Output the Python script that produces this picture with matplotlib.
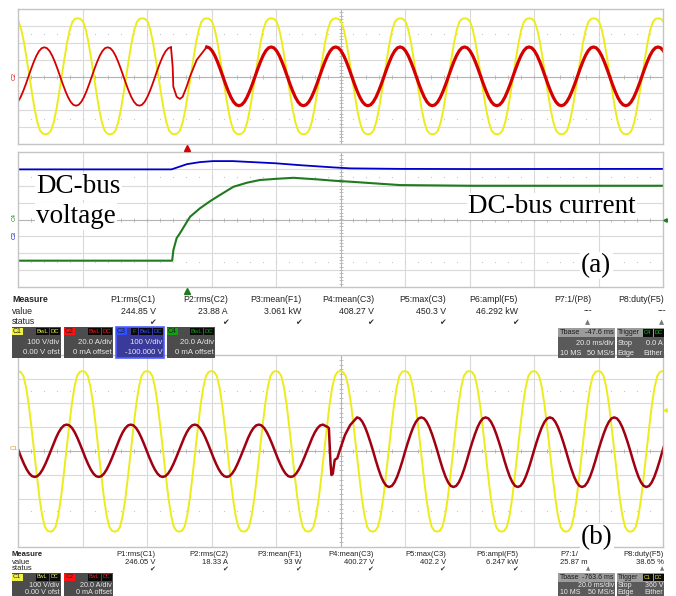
import numpy as np
import matplotlib
matplotlib.use("Agg")
import matplotlib.pyplot as plt
from matplotlib.patches import Rectangle
from matplotlib import font_manager

W, H = 676, 596

# ---- waveform data (time and amplitude in divisions) ----
# one period, 24 samples starting at the positive peak
yellow_shape = [1.0, 0.99, 0.94, 0.80, 0.58, 0.30, 0.0, -0.30, -0.58, -0.80, -0.94, -0.99,
                -1.0, -0.99, -0.94, -0.80, -0.58, -0.30, 0.0, 0.30, 0.58, 0.80, 0.94, 0.99]
red_shape = [1.0, 0.97, 0.87, 0.71, 0.50, 0.26, 0.0, -0.26, -0.50, -0.71, -0.87, -0.97,
             -1.0, -0.97, -0.87, -0.71, -0.50, -0.26, 0.0, 0.26, 0.50, 0.71, 0.87, 0.97]

# (a) top: grid voltage / phase current
va_peak, va_period, va_amp = -0.073, 1.0, [3.45, 3.42]
ia_pre_peak, ia_pre_period, ia_pre_amp, ia_pre_end = 0.408, 0.982, [1.73, 1.73], 2.372
ia_step_t = [2.398, 2.408, 2.46, 2.51, 2.553, 2.615, 2.667, 2.77]
ia_step_v = [0.58, -0.6, -1.2, -1.33, -1.2, -0.6, 0.0, 0.98]
ia_post_peak, ia_post_period, ia_post_amp = 2.926, 0.9995, [1.75, 1.73]

# (a) bottom: DC-bus voltage (blue) and DC-bus current (green)
vdc_t = [0, 2.38, 2.62, 2.82, 3.02, 3.33, 4.0, 4.37, 4.88, 5.15, 5.92, 7.0, 10]
vdc_v = [2.97, 2.97, 3.28, 3.40, 3.46, 3.46, 3.33, 3.22, 3.09, 3.03, 3.0, 2.99, 3.0]
idc_t = [0, 2.39, 2.41, 2.46, 2.51, 2.62, 2.67, 2.82, 2.98, 3.13, 3.34, 3.55, 3.75,
         4.0, 4.27, 4.63, 4.89, 5.15, 5.92, 7.01, 10]
idc_v = [-2.44, -2.44, -1.80, -1.10, -0.82, -0.13, 0.17, 0.66, 1.09, 1.45, 1.94, 2.18,
         2.34, 2.41, 2.47, 2.38, 2.30, 2.24, 2.04, 2.0, 2.0]

# (b): grid voltage / phase current
vb_peak, vb_period, vb_amp = 0.0, 0.9995, [3.33, 3.36]
ib_pre_peak, ib_pre_period, ib_pre_amp, ib_pre_end = 0.755, 0.993, [1.1, 1.08], 4.727
ib_step_t = [4.80, 4.82, 4.845, 4.86, 4.88, 4.91, 4.95, 4.99, 5.07, 5.15]
ib_step_v = [1.0, 0.95, -0.5, -1.0, -0.95, -0.37, -0.3, 0.04, 0.67, 1.08]
ib_post_peak, ib_post_period, ib_post_amp = 5.256, 0.997, [1.4, 1.5]

# ---- measurement tables ----
meas_names_a = ["P1:rms(C1)", "P2:rms(C2)", "P3:mean(F1)", "P4:mean(C3)",
                "P5:max(C3)", "P6:ampl(F5)", "P7:1/(P8)", "P8:duty(F5)"]
meas_vals_a = ["244.85 V", "23.88 A", "3.061 kW", "408.27 V", "450.3 V", "46.292 kW", "---", "---"]
meas_names_b = ["P1:rms(C1)", "P2:rms(C2)", "P3:mean(F1)", "P4:mean(C3)",
                "P5:max(C3)", "P6:ampl(F5)", "P7:1/", "P8:duty(F5)"]
meas_vals_b = ["246.05 V", "18.33 A", "93 W", "400.27 V", "402.2 V", "6.247 kW", "25.87 m", "38.65 %"]
meas_ok = [True, True, True, True, True, True, False, False]

names = {f.name for f in font_manager.fontManager.ttflist}
NARROW = "Liberation Sans Narrow" if "Liberation Sans Narrow" in names else "Liberation Sans"
SERIF = "Liberation Serif"

YEL, RED_A, RED_B = "#ecec1c", "#d40000", "#a00010"
BLUE, GREEN = "#0000c8", "#1e7b1e"


def wave(shape, t_peak, period, amp, t0, t1):
    s = np.array(shape)
    n = len(s)
    ks = np.arange(np.floor((t0 - t_peak) / period) - 1, np.ceil((t1 - t_peak) / period) + 1)
    t = (t_peak + (ks[:, None] + np.arange(n)[None, :] / n) * period).ravel()
    v = np.tile(np.where(s >= 0, s * amp[0], s * amp[1]), len(ks))
    keep = (t >= t0) & (t <= t1)
    return t[keep], v[keep]


fig = plt.figure(figsize=(W / 100, H / 100), dpi=100)


def px_axes(x0, y0, x1, y1, **kw):
    return fig.add_axes([x0 / W, 1 - y1 / H, (x1 - x0) / W, (y1 - y0) / H], **kw)


def scope_grid(ax):
    ax.set_xlim(0, 10)
    ax.set_ylim(-4, 4)
    ax.set_xticks([])
    ax.set_yticks([])
    for sp in ax.spines.values():
        sp.set_color("#c4c4c4")
        sp.set_linewidth(1.0)
    for v in range(1, 10):
        ax.axvline(v, color="#b4b4b4" if v == 5 else "#dadada", lw=0.8, zorder=0)
    for h in range(-3, 4):
        ax.axhline(h, color="#b4b4b4" if h == 0 else "#dadada", lw=0.8, zorder=0)
    xs = np.arange(0.2, 10, 0.2)
    ys = np.arange(-3.8, 4, 0.2)
    ax.plot(xs, np.zeros_like(xs), ls="none", marker="|", ms=2.2, mew=0.6,
            color="#b4b4b4", zorder=0)
    ax.plot(np.full_like(ys, 5), ys, ls="none", marker="_", ms=2.2, mew=0.6,
            color="#b4b4b4", zorder=0)
    for r in (2.5, -2.5):
        ax.plot(xs, np.full_like(xs, r), ls="none", marker="s", ms=0.8, mew=0,
                color="#c8c8c8", zorder=0)


# ---------------- panel (a) top ----------------
ax1 = px_axes(18, 9, 663, 144)
scope_grid(ax1)
t, v = wave(yellow_shape, va_peak, va_period, va_amp, -0.2, 10.2)
ax1.plot(t, v, color=YEL, lw=1.4)
t1, v1 = wave(red_shape, ia_pre_peak, ia_pre_period, ia_pre_amp, -0.2, ia_pre_end + 1e-3)
t2, v2 = wave(red_shape, ia_post_peak, ia_post_period, ia_post_amp, ia_post_peak - 1e-3, 10.2)
ax1.plot(t1, v1, color=RED_A, lw=1.3)
ax1.plot([t1[-1]] + ia_step_t + [t2[0]], [v1[-1]] + ia_step_v + [v2[0]], color=RED_A, lw=1.3)
ax1.plot(t2, v2, color=RED_A, lw=2.3)

# ---------------- panel (a) bottom ----------------
ax2 = px_axes(18, 152, 663, 287)
scope_grid(ax2)
ax2.plot(vdc_t, vdc_v, color=BLUE, lw=1.3)
ax2.plot(idc_t, idc_v, color=GREEN, lw=1.5)

# ---------------- panel (b) ----------------
ax3 = px_axes(18, 355, 663, 547)
scope_grid(ax3)
t, v = wave(yellow_shape, vb_peak, vb_period, vb_amp, -0.2, 10.2)
ax3.plot(t, v, color=YEL, lw=1.4)
t1, v1 = wave(red_shape, ib_pre_peak, ib_pre_period, ib_pre_amp, -0.2, ib_pre_end + 1e-3)
t2, v2 = wave(red_shape, ib_post_peak, ib_post_period, ib_post_amp, ib_post_peak - 1e-3, 10.2)
ax3.plot(np.concatenate([t1, ib_step_t, t2]), np.concatenate([v1, ib_step_v, v2]),
         color=RED_B, lw=1.8)

# ---------------- overlay: labels, measure tables, channel boxes ----------------
ov = px_axes(0, 0, W, H)
ov.set_xlim(0, W)
ov.set_ylim(H, 0)
ov.axis("off")


def txt(x, y, s, ha="left", size=6.3, color="#222222", weight="normal", family=NARROW, **kw):
    ov.text(x, y, s, ha=ha, va="center", fontsize=size, color=color,
            fontweight=weight, family=family, **kw)


def rect(x0, y0, x1, y1, fc, ec=None, lw=0.0):
    ov.add_patch(Rectangle((x0, y0), x1 - x0, y1 - y0, facecolor=fc,
                           edgecolor=ec if ec else fc, lw=lw))


white = dict(facecolor="white", edgecolor="none", pad=1.0)
ov.text(36, 193, "DC-bus", fontsize=19.5, family=SERIF, va="baseline", bbox=white)
ov.text(36, 223, "voltage", fontsize=19.5, family=SERIF, va="baseline", bbox=white)
ov.text(468, 213, "DC-bus current", fontsize=19.5, family=SERIF, va="baseline", bbox=white)
ov.text(581, 272, "(a)", fontsize=19.5, family=SERIF, va="baseline", bbox=white)
ov.text(581, 544, "(b)", fontsize=19.5, family=SERIF, va="baseline", bbox=white)

# channel tags at the left edge and trigger markers
txt(14, 76, "C2", size=4.5, color=RED_A, rotation=90, ha="center")
txt(14, 217, "C4", size=4.5, color=GREEN, rotation=90, ha="center")
txt(14, 235, "C3", size=4.5, color=BLUE, rotation=90, ha="center")
txt(14, 449, "C1", size=4.5, color="#e89020", ha="center")
ov.plot([187], [147.5], marker="^", ms=4, color=RED_A, ls="none")
ov.plot([187], [291], marker="^", ms=4, color=GREEN, ls="none")
ov.plot([665], [220], marker="<", ms=2.5, color=GREEN, ls="none")
ov.plot([665], [410], marker="<", ms=2.5, color=YEL, ls="none")

col_right = [155.7, 228, 301.5, 374, 446, 518, 591, 664]
col_check = [152.5, 225.5, 298.5, 370, 442.5, 515, 588, 662]


def measure_table(ys, heads, vals, size, p7_right=None):
    txt(12, ys[0], "Measure", size=size, weight="bold")
    txt(12, ys[1], "value", size=size)
    txt(12, ys[2], "status", size=size)
    for i, (h, v) in enumerate(zip(heads, vals)):
        xr = col_right[i] if (i != 6 or p7_right is None) else p7_right[0]
        txt(xr, ys[0], h, ha="right", size=size)
        xv = col_right[i] if (i != 6 or p7_right is None) else p7_right[1]
        if v == "---":
            txt(col_check[i], ys[1], "---", ha="center", size=size)
        else:
            txt(xv, ys[1], v, ha="right", size=size)
        if meas_ok[i]:
            txt(col_check[i], ys[2], "\u2714", ha="center", size=size - 0.5,
                family="DejaVu Sans", color="#333333")
        else:
            txt(col_check[i], ys[2], "\u25b2", ha="center", size=size - 1.5,
                family="DejaVu Sans", color="#777777")


measure_table([300, 311, 322], meas_names_a, meas_vals_a, 6.3)
measure_table([555, 562, 569], meas_names_b, meas_vals_b, 5.5, p7_right=(578, 588))


def chan_box(x0, y0, x1, y1, label, col, tags, line1, line2, ys, size,
             bg="#4c4c4c", border=None):
    rect(x0, y0, x1, y1, bg, ec=border, lw=1.2 if border else 0)
    rect(x0 + 0.5, y0 + 0.5, x0 + 11, ys[0] + 3.5, col)
    txt(x0 + 5.7, ys[0], label, ha="center", size=size - 0.6, color="#202020")
    xr = x1 - 1.5
    for tg in reversed(tags):
        w = 3.4 * len(tg) + 3
        rect(xr - w, y0 + 1, xr, ys[0] + 3.5, "#0a0a0a")
        txt(xr - w / 2, ys[0], tg, ha="center", size=size - 1.3, color=col)
        xr -= w + 1
    txt(x1 - 1.5, ys[1], line1, ha="right", size=size, color="#e8e8e8")
    txt(x1 - 1.5, ys[2], line2, ha="right", size=size, color="#e8e8e8")


# (a) channel descriptors
ya = [331.5, 343, 352.5]
chan_box(11.5, 327, 61, 358, "C1", "#f0f040", ["BwL", "DC"], "100 V/div", "0.00 V ofst", ya, 5.6)
chan_box(63.5, 327, 113, 358, "C2", "#ff1010", ["BwL", "DC"], "20.0 A/div", "0 mA offset", ya, 5.6)
chan_box(115.5, 327, 164, 358, "C3", "#3050ff", ["F", "BwL", "DC"], "100 V/div", "-100.000 V", ya, 5.6,
         bg="#3a3a9a", border="#5060ff")
chan_box(166.5, 327, 215, 358, "C4", "#10a010", ["BwL", "DC"], "20.0 A/div", "0 mA offset", ya, 5.6)

# (b) channel descriptors
yb = [577, 585.5, 592.5]
chan_box(11.5, 573, 61, 596, "C1", "#f0f040", ["BwL", "DC"], "100 V/div", "0.00 V ofst", yb, 5.2)
chan_box(63.5, 573, 113, 596, "C2", "#ff1010", ["BwL", "DC"], "20.0 A/div", "0 mA offset", yb, 5.2)


def time_boxes(y0, y1, ys, size, tbase, trig_ch, trig_col, stop):
    rect(558, y0, 615, y1, "#5a5a5a")
    rect(558, y0, 615, ys[0] + 4, "#9c9c9c")
    txt(559.5, ys[0], "Tbase", size=size, color="#1a1a1a")
    txt(614, ys[0], tbase, ha="right", size=size, color="#1a1a1a")
    txt(614, ys[1], "20.0 ms/div", ha="right", size=size, color="#ececec")
    txt(559.5, ys[2], "10 MS", size=size, color="#ececec")
    txt(614, ys[2], "50 MS/s", ha="right", size=size, color="#ececec")
    rect(616.5, y0, 664, y1, "#5a5a5a")
    rect(616.5, y0, 664, ys[0] + 4, "#9c9c9c")
    txt(617.5, ys[0], "Trigger", size=size - 0.3, color="#1a1a1a")
    rect(642.5, y0 + 1, 652.5, ys[0] + 3.5, "#0a0a0a")
    txt(647.5, ys[0], trig_ch, ha="center", size=size - 1.2, color=trig_col)
    rect(653.5, y0 + 1, 663.5, ys[0] + 3.5, "#0a0a0a")
    txt(658.5, ys[0], "DC", ha="center", size=size - 1.2, color=trig_col)
    txt(617.5, ys[1], "Stop", size=size, color="#ececec")
    txt(663, ys[1], stop, ha="right", size=size, color="#ececec")
    txt(617.5, ys[2], "Edge", size=size, color="#ececec")
    txt(663, ys[2], "Either", ha="right", size=size, color="#ececec")


time_boxes(328, 358, [333, 343.5, 353.5], 5.3, "-47.6 ms", "C4", "#20c020", "0.0 A")
time_boxes(573, 596, [577.5, 585.5, 592.5], 5.0, "-763.6 ms", "C1", "#f0f040", "360 V")

fig.savefig("out.png", dpi=100)
